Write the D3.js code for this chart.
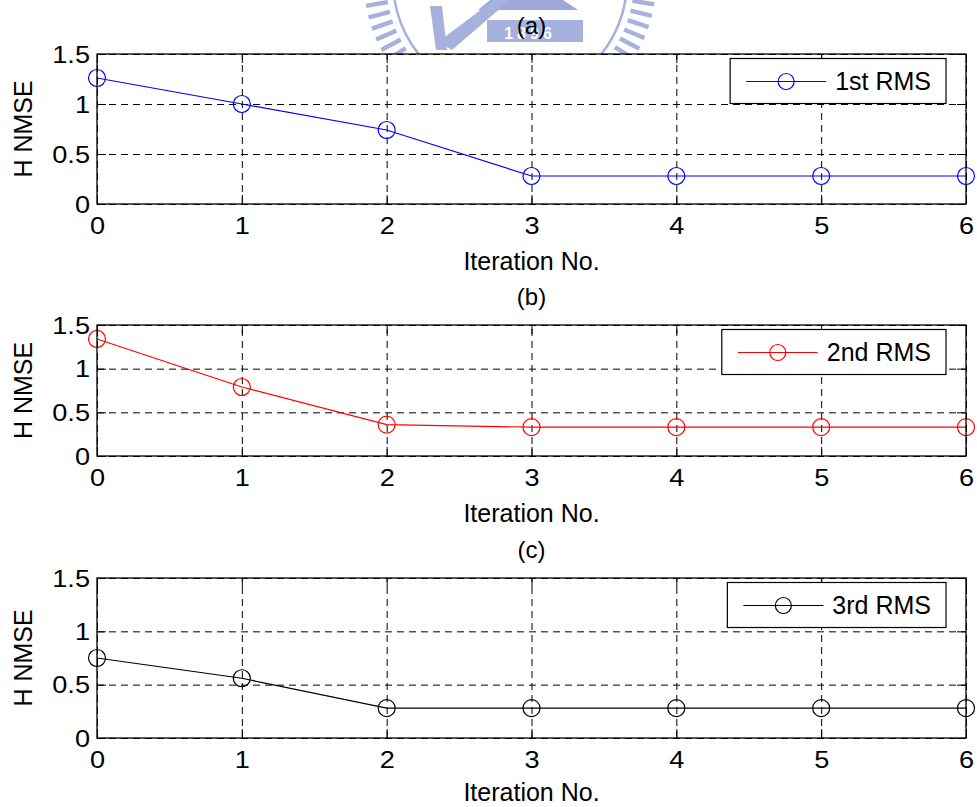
<!DOCTYPE html>
<html>
<head>
<meta charset="utf-8">
<script src="https://cdn.jsdelivr.net/npm/d3@7"></script>
<style>
  body { margin: 0; background: #fff; }
  svg { display: block; }
  text { font-family: "Liberation Sans", Arial, Helvetica, sans-serif; fill: #000; }
</style>
</head>
<body>
<svg id="fig" width="977" height="807"></svg>
<script>
// Iteration counts and normalised MSE of the channel estimate per RMS stage
const iterations = [0, 1, 2, 3, 4, 5, 6];
const rms1 = [1.26, 1.00, 0.74, 0.28, 0.28, 0.28, 0.28];
const rms2 = [1.34, 0.79, 0.36, 0.33, 0.33, 0.33, 0.33];
const rms3 = [0.75, 0.56, 0.28, 0.28, 0.28, 0.28, 0.28];

const xTicks = [0, 1, 2, 3, 4, 5, 6];
const yTicks = [0, 0.5, 1, 1.5];
const panelTitles = ["(a)", "(b)", "(c)"];
const seriesNames = ["1st RMS", "2nd RMS", "3rd RMS"];
const seriesColors = ["#0000ff", "#ff0000", "#000000"];
const seriesValues = [rms1, rms2, rms3];
const xLabel = "Iteration No.";
const yLabel = "H NMSE";

const svg = d3.select("#fig");
const left = 97, right = 966;
const panels = [
  { top: 54, bottom: 204 },
  { top: 325, bottom: 456 },
  { top: 578, bottom: 738 }
];

// ---- faint seal in the page header (drawn first, axes cover it) ----
const seal = svg.append("g").attr("class", "seal");
const sealC = [510, -19];
const sealColor = "#a6b1dd";
d3.range(0, 360, 4.6).forEach(a => {
  const r = a * Math.PI / 180;
  seal.append("line")
    .attr("x1", sealC[0] + 124 * Math.cos(r)).attr("y1", sealC[1] + 124 * Math.sin(r))
    .attr("x2", sealC[0] + 146 * Math.cos(r)).attr("y2", sealC[1] + 146 * Math.sin(r))
    .attr("stroke", sealColor).attr("stroke-width", 4.5);
});
seal.append("circle").attr("cx", sealC[0]).attr("cy", sealC[1]).attr("r", 117)
  .attr("fill", "none").attr("stroke", sealColor).attr("stroke-width", 2.5);
seal.append("polygon").attr("points", "490,0 563,0 578,10 478,10").attr("fill", "#9ca8d8");
seal.append("rect").attr("x", 487).attr("y", 20).attr("width", 96).attr("height", 22).attr("fill", sealColor);
seal.append("text").attr("x", 530).attr("y", 38.5).attr("text-anchor", "middle")
  .attr("font-size", 16).attr("font-weight", "bold").attr("letter-spacing", 4)
  .style("fill", "#ffffff").text("1896");
seal.append("polygon").attr("points", "494,0 510,0 452,50 438,42").attr("fill", sealColor);
seal.append("polygon").attr("points", "430,6 442,6 447,50 436,50").attr("fill", sealColor);

// ---- shared x scale ----
const x = d3.scaleLinear().domain([0, 6]).range([left, right]);
const tickFont = 23, tickStretch = 1.18;

panels.forEach((p, i) => {
  const y = d3.scaleLinear().domain([0, 1.5]).range([p.bottom, p.top]);
  const h = p.bottom - p.top;
  const g = svg.append("g");

  // axes background
  g.append("rect").attr("x", left).attr("y", p.top)
    .attr("width", right - left).attr("height", h).attr("fill", "#fff");

  // dashed grid
  const gridStyle = s => {
    s.select(".domain").remove();
    s.selectAll("line").attr("stroke", "#000").attr("stroke-width", 1).attr("stroke-dasharray", "7,5");
  };
  g.append("g").attr("transform", `translate(0,${p.bottom})`)
    .call(d3.axisBottom(x).tickValues(xTicks).tickSize(-h).tickFormat("")).call(gridStyle);
  g.append("g").attr("transform", `translate(${left},0)`)
    .call(d3.axisLeft(y).tickValues(yTicks).tickSize(-(right - left)).tickFormat("")).call(gridStyle);

  // inward tick marks on all four sides
  const tickLen = 9;
  const tickStyle = s => {
    s.select(".domain").remove();
    s.selectAll("line").attr("stroke", "#000").attr("stroke-width", 1);
  };
  g.append("g").attr("transform", `translate(0,${p.bottom})`)
    .call(d3.axisBottom(x).tickValues(xTicks).tickSize(-tickLen).tickFormat("")).call(tickStyle);
  g.append("g").attr("transform", `translate(0,${p.top})`)
    .call(d3.axisTop(x).tickValues(xTicks).tickSize(-tickLen).tickFormat("")).call(tickStyle);
  g.append("g").attr("transform", `translate(${left},0)`)
    .call(d3.axisLeft(y).tickValues(yTicks).tickSize(-tickLen).tickFormat("")).call(tickStyle);
  g.append("g").attr("transform", `translate(${right},0)`)
    .call(d3.axisRight(y).tickValues(yTicks).tickSize(-tickLen).tickFormat("")).call(tickStyle);

  // tick labels
  g.append("g").attr("transform", `translate(0,${p.bottom})`)
    .call(d3.axisBottom(x).tickValues(xTicks).tickSize(0).tickFormat(d3.format("d")))
    .call(s => {
      s.select(".domain").remove();
      s.selectAll("text").attr("y", 0).attr("dy", null)
        .attr("transform", `translate(0,29.5) scale(${tickStretch},1)`)
        .attr("font-size", tickFont).style("font-family", '"Liberation Sans", Arial, sans-serif').style("fill", "#000");
    });
  g.append("g").attr("transform", `translate(${left},0)`)
    .call(d3.axisLeft(y).tickValues(yTicks).tickSize(0).tickFormat(d => String(d)))
    .call(s => {
      s.select(".domain").remove();
      s.selectAll("text").attr("x", 0).attr("dy", "0.35em").attr("text-anchor", "end")
        .attr("transform", `translate(-7,0) scale(${tickStretch},1)`)
        .attr("font-size", tickFont).style("font-family", '"Liberation Sans", Arial, sans-serif').style("fill", "#000");
    });

  // series line + open circle markers
  const vals = seriesValues[i];
  const pts = iterations.map((it, k) => [it, vals[k]]);
  const line = d3.line().x(d => x(d[0])).y(d => y(d[1]));
  g.append("path").datum(pts).attr("d", line)
    .attr("fill", "none").attr("stroke", seriesColors[i]).attr("stroke-width", 1.2);
  g.selectAll("circle.mk").data(pts).join("circle").attr("class", "mk")
    .attr("cx", d => x(d[0])).attr("cy", d => y(d[1])).attr("r", 8.5)
    .attr("fill", "none").attr("stroke", seriesColors[i]).attr("stroke-width", 1.2);

  // frame
  g.append("rect").attr("x", left).attr("y", p.top)
    .attr("width", right - left).attr("height", h)
    .attr("fill", "none").attr("stroke", "#000").attr("stroke-width", 1.3);

  // legend
  const lg = g.append("g");
  const boxRight = right - 20, boxTop = p.top + 4.5, boxH = 45;
  const box = lg.append("rect");
  const label = lg.append("text").attr("font-size", 25).attr("y", boxTop + 31).text(seriesNames[i]);
  const tw = label.node().getComputedTextLength();
  const textX = boxRight - 15 - tw;
  label.attr("x", textX);
  const lineEnd = textX - 9, lineStart = lineEnd - 80;
  const boxLeft = lineStart - 16;
  box.attr("x", boxLeft).attr("y", boxTop).attr("width", boxRight - boxLeft).attr("height", boxH)
    .attr("fill", "#fff").attr("stroke", "#000").attr("stroke-width", 1.2);
  lg.append("line").attr("x1", lineStart).attr("x2", lineEnd)
    .attr("y1", boxTop + 23).attr("y2", boxTop + 23)
    .attr("stroke", seriesColors[i]).attr("stroke-width", 1.2);
  lg.append("circle").attr("cx", (lineStart + lineEnd) / 2).attr("cy", boxTop + 23).attr("r", 8)
    .attr("fill", "none").attr("stroke", seriesColors[i]).attr("stroke-width", 1.2);

  // titles and axis labels
  const midX = (left + right) / 2;
  g.append("text").attr("x", midX).attr("y", p.top - 20).attr("text-anchor", "middle")
    .attr("font-size", 24).text(panelTitles[i]);
  g.append("text").attr("x", midX).attr("y", Math.min(p.bottom + 66, 801)).attr("text-anchor", "middle")
    .attr("font-size", 25).text(xLabel);
  g.append("text").attr("transform", `translate(32,${(p.top + p.bottom) / 2}) rotate(-90)`)
    .attr("text-anchor", "middle").attr("font-size", 25).text(yLabel);
});
</script>
</body>
</html>
